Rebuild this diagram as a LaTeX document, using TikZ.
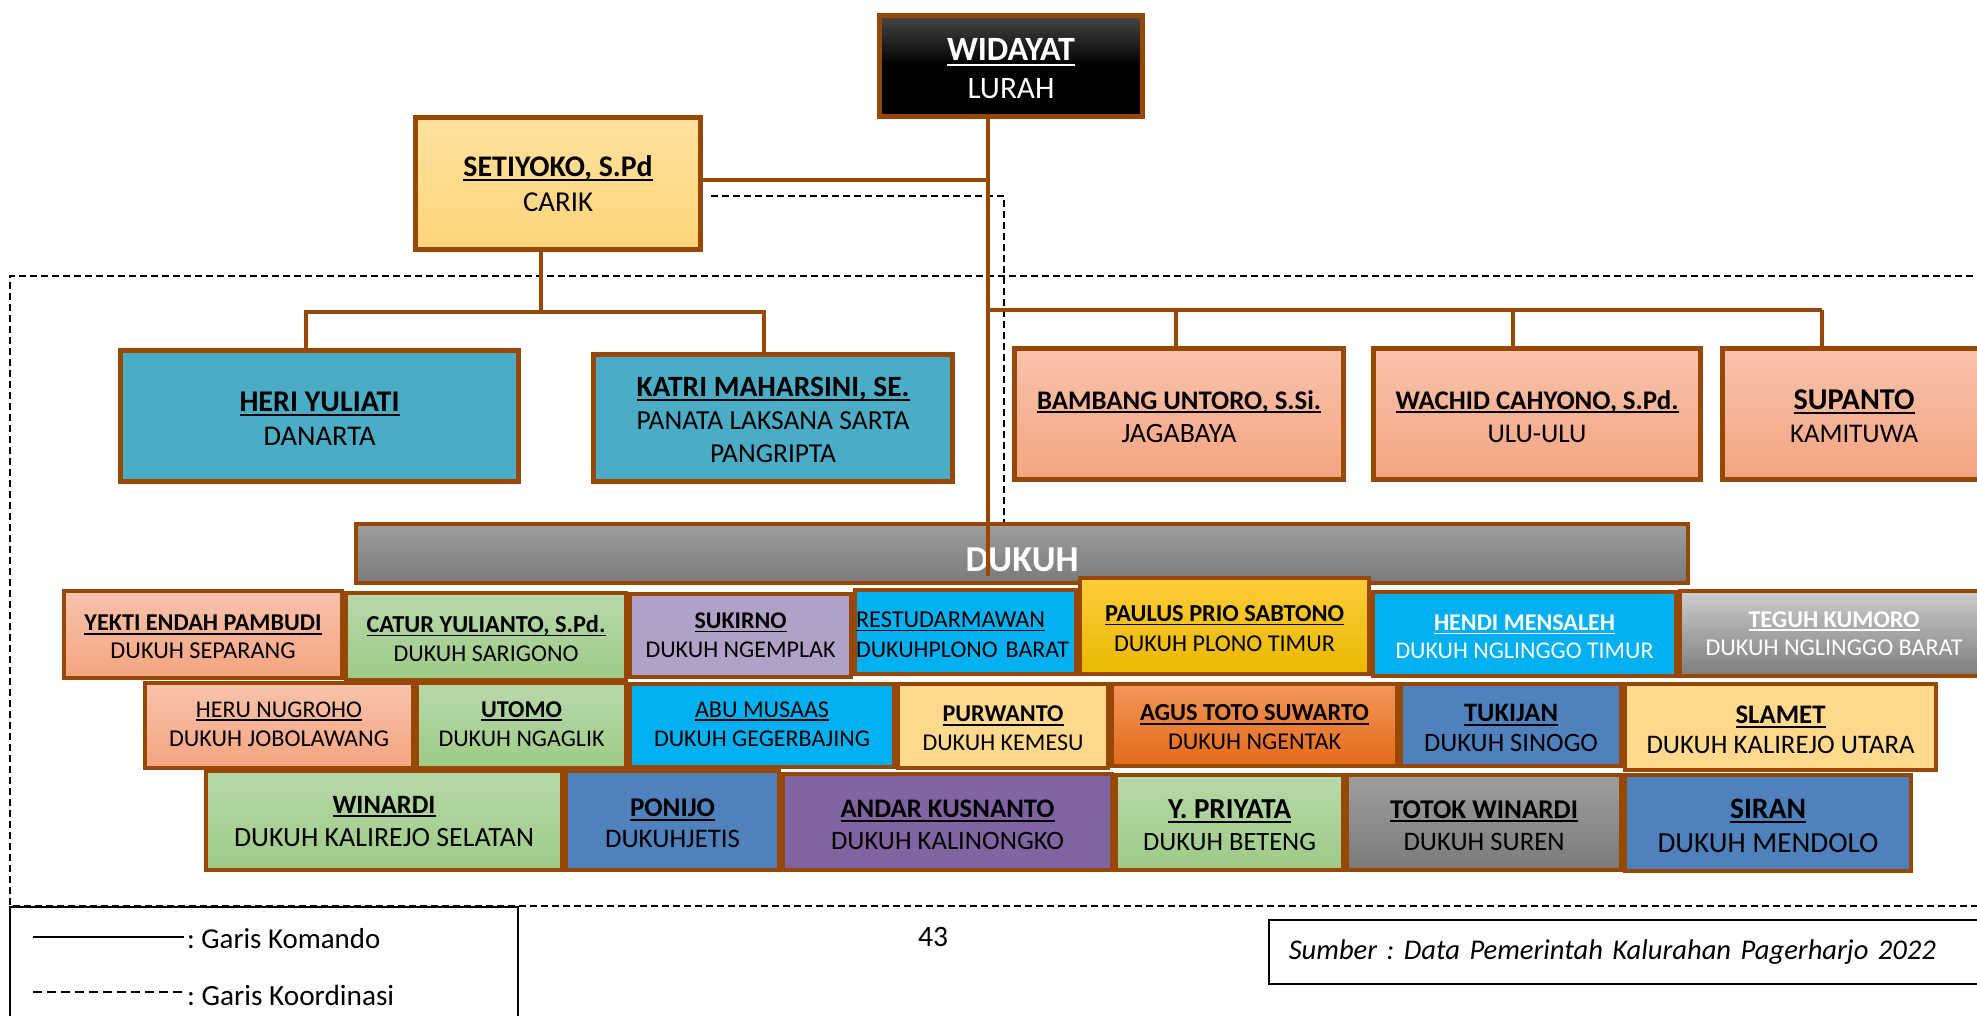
\documentclass[tikz,border=0pt]{standalone}
\usepackage{graphicx}
\usepackage{fontspec}
\setmainfont{Carlito}
\frenchspacing
\definecolor{brn}{RGB}{152,72,6}
\definecolor{salT}{RGB}{248,195,172}
\definecolor{salB}{RGB}{244,164,128}
\definecolor{grnT}{RGB}{184,216,170}
\definecolor{grnB}{RGB}{157,203,134}
\definecolor{tealx}{RGB}{75,172,198}
\definecolor{cyanx}{RGB}{0,176,240}
\definecolor{lavx}{RGB}{178,161,199}
\definecolor{gldT}{RGB}{255,204,60}
\definecolor{gldB}{RGB}{232,184,0}
\definecolor{lorx}{RGB}{255,217,142}
\definecolor{carT}{RGB}{255,224,158}
\definecolor{carB}{RGB}{255,213,122}
\definecolor{orT}{RGB}{242,150,90}
\definecolor{orB}{RGB}{228,106,24}
\definecolor{blux}{RGB}{79,129,189}
\definecolor{purx}{RGB}{128,100,162}
\definecolor{gryT}{RGB}{158,158,158}
\definecolor{gryB}{RGB}{122,122,122}
\definecolor{lgT}{RGB}{205,205,205}
\definecolor{lgB}{RGB}{125,125,125}
\definecolor{blkT}{RGB}{70,70,70}
\newsavebox\ulbox
\newcommand\ulx[1]{\sbox\ulbox{#1}\rlap{\rule[-0.16em]{\wd\ulbox}{0.075em}}\usebox\ulbox}
% name lines (underlined), fitted to the widths of the reference
\newcommand\nmb[2]{\resizebox{#1pt}{!}{\ulx{\bfseries #2}}\rule{0pt}{0.88em}}
\newcommand\nmr[2]{\resizebox{#1pt}{!}{\ulx{#2}}\rule{0pt}{0.88em}}
\newcommand\rl[2]{\resizebox{#1pt}{!}{#2}}
\newcommand\dn[1]{\rule[-#1pt]{0pt}{0pt}}
\tikzset{
  cmd/.style={draw=brn, line width=4.5pt},
  crd/.style={draw=black, line width=1.4pt, dash pattern=on 7pt off 4pt},
  bigbox/.style={draw=brn, line width=5pt, inner sep=0pt, align=center},
  dkbox/.style={draw=brn, line width=4pt, inner sep=0pt, align=center},
  fs/.style 2 args={font=\fontsize{#1}{#2}\selectfont},
  sz/.style 2 args={minimum width=#1pt, minimum height=#2pt},
  fsal/.style={top color=salT, bottom color=salB},
  fgrn/.style={top color=grnT, bottom color=grnB},
}
\begin{document}
\begin{tikzpicture}[x=1pt,y=-1pt]
\clip (0,0) rectangle (1977,1016);
\fill[white] (0,0) rectangle (1977,1016);
% coordination frame
\draw[crd] (1995,276) -- (10,276) -- (10,906) -- (1995,906);

% top boxes
\node[bigbox, sz={263}{101}, top color=blkT, bottom color=black, middle color=black, text=white, fs={32}{38}] (L) at (1011,66) {\nmb{128}{WIDAYAT}\\\rl{87}{LURAH}};
\node[bigbox, sz={285}{132}, top color=carT, bottom color=carB, fs={29}{35}] (C) at (558,183.5) {\nmb{189}{SETIYOKO, S.Pd}\\\rl{70}{CARIK}\dn{5}};
\node[bigbox, sz={398}{131}, fill=tealx, fs={28.5}{34}] (H) at (319.5,416) {\nmb{160}{HERI YULIATI}\\\rl{112}{DANARTA}};
\node[bigbox, sz={359}{127}, fill=tealx, fs={26.5}{33}] (K) at (773,418) {\nmb{273}{KATRI MAHARSINI, SE.}\\\rl{273}{PANATA LAKSANA SARTA}\\\rl{126}{PANGRIPTA}};
\node[bigbox, sz={329}{131}, fsal, fs={26.5}{33}] (B) at (1179,414) {\nmb{284}{BAMBANG UNTORO, S.Si.}\\\rl{115}{JAGABAYA}};
\node[bigbox, sz={327}{131}, fsal, fs={26.5}{33}] (W) at (1537,414) {\nmb{283}{WACHID CAHYONO, S.Pd.}\\\rl{99}{ULU-ULU}};
\node[bigbox, sz={263}{131}, fsal, fs={26.5}{33}] (S) at (1854,414) {\nmb{121}{SUPANTO}\\\rl{128}{KAMITUWA}};

% connectors (command lines)
\coordinate (ch) at (988,180);
\coordinate (cb) at (541,312);
\coordinate (hl) at (306,312);
\coordinate (hr) at (764,312);
\coordinate (r0) at (988,310);
\coordinate (r1) at (1176,310);
\coordinate (r2) at (1513,310);
\coordinate (r3) at (1822,310);
\coordinate (tk) at (988,576);
\coordinate (dh) at (711,196);
\coordinate (dv) at (1004,523);
\draw[crd] (dh) -| (dv);
\draw[cmd] (C.east |- ch) -- (ch);
\draw[cmd] (C.south -| cb) -- (cb);
\draw[cmd] (H.north -| hl) -- (hl) -- (hr) -- (K.north -| hr);
\draw[cmd] (r0) -- (r3);
\draw[cmd] (r1) -- (B.north -| r1);
\draw[cmd] (r2) -- (W.north -| r2);
\draw[cmd] (r3) -- (S.north -| r3);

% DUKUH bar
\node[dkbox, sz={1332}{59}, top color=gryT, bottom color=gryB, text=white, fs={38}{44}, text height=35pt, text depth=0pt] (D) at (1022,553.5) {\rl{113}{\bfseries DUKUH}};
\draw[cmd] (L.south -| tk) -- (tk);

% row 1
\node[dkbox, sz={278}{87}, fsal, fs={24}{28}] (d1) at (203,634.5) {\nmb{237}{YEKTI ENDAH PAMBUDI}\\\rl{185}{DUKUH SEPARANG}};
\node[dkbox, sz={280}{87}, fgrn, fs={24}{29}] (d2) at (486,636.5) {\nmb{239}{CATUR YULIANTO, S.Pd.}\\\rl{185}{DUKUH SARIGONO}};
\node[dkbox, sz={221}{83}, fill=lavx, fs={24}{29}] (d3) at (740.5,635.5) {\nmb{92}{SUKIRNO}\\\rl{190}{DUKUH NGEMPLAK}\dn{6}};
\node[dkbox, sz={221}{84}, fill=cyanx, fs={24}{30}, align=left, text width=219pt, inner xsep=1pt] (d4) at (965.5,632) {\nmr{189}{RESTUDARMAWAN}\\\rl{213}{DUKUHPLONO BARAT}};
\node[dkbox, sz={289}{96}, top color=gldT, bottom color=gldB, fs={24}{30}] (d5) at (1224.5,626) {\nmb{239}{PAULUS PRIO SABTONO}\\\rl{221}{DUKUH PLONO TIMUR}};
\node[dkbox, sz={303}{84}, fill=cyanx, text=white, fs={24}{28}] (d6) at (1524.5,634) {\nmb{181}{HENDI MENSALEH}\\\rl{258}{DUKUH NGLINGGO TIMUR}};
\node[dkbox, sz={308}{85}, top color=lgT, bottom color=lgB, text=white, fs={24}{28}] (d7) at (1834,633.5) {\nmb{171}{TEGUH KUMORO}\\\rl{257}{DUKUH NGLINGGO BARAT}\dn{6}};

% row 2
\node[dkbox, sz={268}{85}, fsal, fs={24}{29}] (e1) at (279,725.5) {\nmr{166}{HERU NUGROHO}\\\rl{220}{DUKUH JOBOLAWANG}\dn{9}};
\node[dkbox, sz={209}{85}, fgrn, fs={24}{29}] (e2) at (521.5,725.5) {\nmb{81}{UTOMO}\\\rl{166}{DUKUH NGAGLIK}\dn{9}};
\node[dkbox, sz={264}{83}, fill=cyanx, fs={24}{29}] (e3) at (762,725.5) {\nmr{134}{ABU MUSAAS}\\\rl{216}{DUKUH GEGERBAJING}\dn{9}};
\node[dkbox, sz={210}{84}, fill=lorx, fs={24}{29}] (e4) at (1003,726) {\nmb{121}{PURWANTO}\\\rl{161}{DUKUH KEMESU}};
\node[dkbox, sz={285}{82}, top color=orT, bottom color=orB, fs={24}{29}] (e5) at (1254.5,725) {\nmb{229}{AGUS TOTO SUWARTO}\\\rl{173}{DUKUH NGENTAK}};
\node[dkbox, sz={220}{82}, fill=blux, fs={26.5}{30}] (e6) at (1511,725) {\nmb{94}{TUKIJAN}\\\rl{174}{DUKUH SINOGO}};
\node[dkbox, sz={311}{86}, fill=lorx, fs={26.5}{30}] (e7) at (1780.5,727) {\nmb{90}{SLAMET}\\\rl{268}{DUKUH KALIREJO UTARA}};

% row 3
\node[dkbox, sz={356}{99}, fgrn, fs={27.5}{33}] (f1) at (384,820.5) {\nmb{103}{WINARDI}\\\rl{300}{DUKUH KALIREJO SELATAN}\dn{6}};
\node[dkbox, sz={213}{99}, fill=blux, fs={26.5}{31}] (f2) at (672.5,820.5) {\nmb{85}{PONIJO}\\\rl{135}{DUKUHJETIS}};
\node[dkbox, sz={329}{96}, fill=purx, fs={26.5}{32}] (f3) at (947.5,822) {\nmb{214}{ANDAR KUSNANTO}\\\rl{233}{DUKUH KALINONGKO}};
\node[dkbox, sz={227}{95}, fgrn, fs={26.5}{32}] (f4) at (1229.5,822.5) {\nmb{123}{Y. PRIYATA}\\\rl{173}{DUKUH BETENG}};
\node[dkbox, sz={274}{95}, top color=gryT, bottom color=gryB, fs={26.5}{32}] (f5) at (1484,822.5) {\nmb{188}{TOTOK WINARDI}\\\rl{161}{DUKUH SUREN}};
\node[dkbox, sz={286}{96}, fill=blux, fs={29}{34}] (f6) at (1768,823) {\nmb{76}{SIRAN}\\\rl{221}{DUKUH MENDOLO}};

% legend
\draw[line width=1.6pt] (10,907) rectangle (518,1040);
\node[anchor=west, inner sep=3pt, fs={28.5}{34}] (lk) at (184,939) {\rl{193}{: Garis Komando}};
\node[anchor=west, inner sep=3pt, fs={28.5}{34}] (lc) at (184,995) {\rl{207}{: Garis Koordinasi}};
\coordinate (lks) at (33,937);
\coordinate (lcs) at (33,992);
\draw[line width=1.5pt] (lks) -- (lk.west |- lks);
\draw[line width=1.5pt, dash pattern=on 9pt off 5pt] (lcs) -- (lc.west |- lcs);

% page number and source
\node[fs={27}{30}] (pg) at (933,937) {\rl{30}{43}};
\node[draw, line width=1.6pt, anchor=north west, minimum height=64pt, text width=700pt, inner xsep=20pt, align=left, font=\fontsize{28.5}{33}\selectfont\itshape] (sb) at (1268,919) {\rl{647}{Sumber : Data Pemerintah Kalurahan Pagerharjo 2022}};
\end{tikzpicture}
\end{document}
